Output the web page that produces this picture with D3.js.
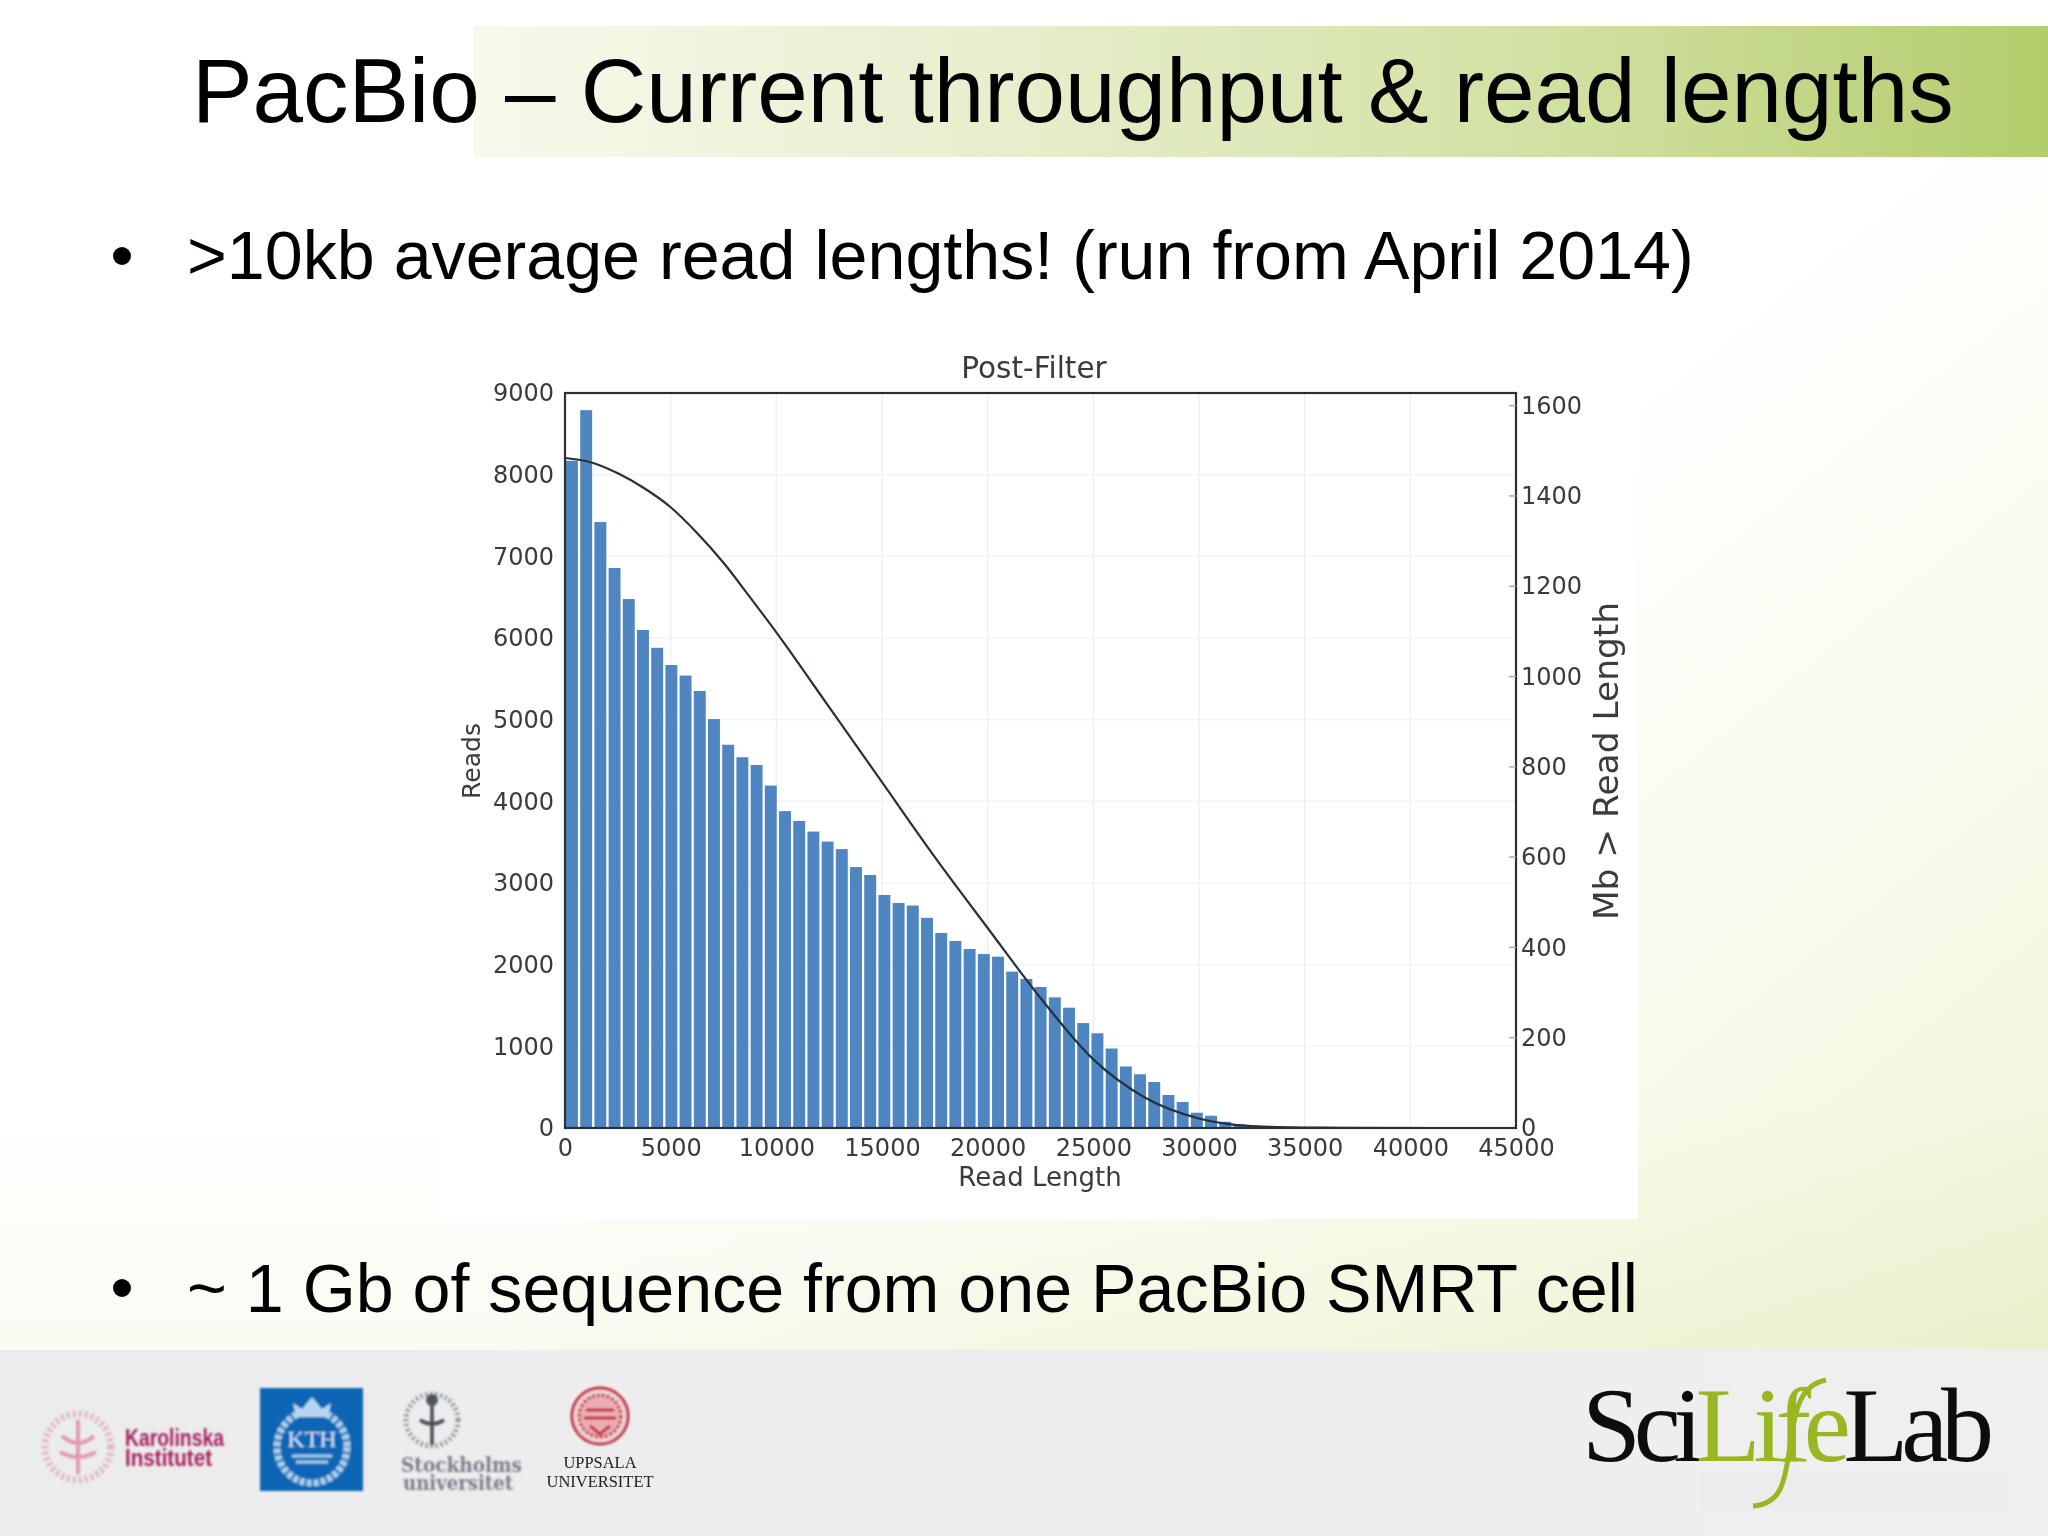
<!DOCTYPE html>
<html><head><meta charset="utf-8">
<script src="https://cdn.jsdelivr.net/npm/d3@7"></script>
<style>html,body{margin:0;padding:0;background:#fff}svg{display:block}</style>
</head><body><div id="c"></div>
<script>
const slideTitle = "PacBio \u2013 Current throughput & read lengths";
const bullets = [">10kb average read lengths! (run from April 2014)", "~ 1 Gb of sequence from one PacBio SMRT cell"];
const chartTitle = "Post-Filter", xLabel = "Read Length", yLabel = "Reads", y2Label = "Mb > Read Length";
const xTicks = [0,5000,10000,15000,20000,25000,30000,35000,40000,45000];
const yTicks = [0,1000,2000,3000,4000,5000,6000,7000,8000,9000];
const y2Ticks = [0,200,400,600,800,1000,1200,1400,1600];
const binWidth = 672;
const readCounts = [8170,8790,7420,6857,6477,6098,5880,5669,5540,5351,5007,4693,4540,4445,4193,3880,3760,3630,3507,3415,3195,3098,2853,2755,2724,2573,2388,2290,2192,2130,2098,1915,1825,1727,1600,1473,1285,1160,973,753,658,563,404,318,187,150,77,45,25,15,10,8,6,4,3,2];
const curveLength = [0,1250,2500,3750,5000,6250,7500,8750,10000,12500,15000,17500,20000,22500,25000,27500,30000,32500,35000,41000];
const curveMb = [1484,1474,1450,1417,1375,1318,1252,1176,1098,932,766,600,443,288,152,66,21,4,1,0];

const W=2048,H=1536;
const svg=d3.select("#c").append("svg").attr("width",W).attr("height",H);
const defs=svg.append("defs");
function grad(id,x1,y1,x2,y2,stops){const g=defs.append("linearGradient").attr("id",id).attr("x1",x1).attr("y1",y1).attr("x2",x2).attr("y2",y2);stops.forEach(s=>g.append("stop").attr("offset",s[0]).attr("stop-color",s[1]).attr("stop-opacity",s[2]===undefined?1:s[2]));}
grad("bg",0.55,0.5,1,0.92,[[0,"#ffffff"],[0.5,"#f8fbec"],[1,"#edf3d3"]]);
grad("bg2",0,0.72,0,0.88,[[0,"#fafbf2",0],[1,"#fafbf2",1]]);
grad("band",0,0,1,0,[[0,"#f7f9ec"],[0.35,"#e6eecb"],[0.7,"#d0e0a0"],[1,"#b3cd6c"]]);
grad("foot",0,0,1,0,[[0,"#ececee"],[1,"#efeff0"]]);
const soft=defs.append("filter").attr("id","soft");soft.append("feGaussianBlur").attr("stdDeviation",0.6);
const soft2=defs.append("filter").attr("id","soft2");soft2.append("feGaussianBlur").attr("stdDeviation",0.8);

svg.append("rect").attr("width",W).attr("height",H).attr("fill","#fff");
svg.append("rect").attr("width",W).attr("height",H).attr("fill","url(#bg2)");
svg.append("rect").attr("width",W).attr("height",H).attr("fill","url(#bg)").attr("style","mix-blend-mode:multiply");
svg.append("rect").attr("x",474).attr("y",26).attr("width",W-474).attr("height",131).attr("fill","url(#band)");
svg.append("rect").attr("x",0).attr("y",1350).attr("width",W).attr("height",186).attr("fill","url(#foot)");

const sans="'Liberation Sans',Arial,sans-serif";
svg.append("text").attr("x",192).attr("y",122).attr("font-family",sans).attr("font-size",90.8).attr("fill","#000").text(slideTitle);
svg.selectAll("text.bul").data(bullets).join("text").attr("class","bul").attr("x",187).attr("y",(d,i)=>[279,1312][i]).attr("font-family",sans).attr("font-size",68.2).attr("fill","#000").text(d=>d);
svg.selectAll("circle.b").data([256,1288]).join("circle").attr("class","b").attr("cx",122).attr("cy",d=>d).attr("r",9).attr("fill","#000");

// chart
svg.append("rect").attr("x",440).attr("y",332).attr("width",1198).attr("height",887).attr("fill","#fff");
const L=565,R=1516,T=393,B=1128;
const x=d3.scaleLinear().domain([0,45000]).range([L,R]);
const y=d3.scaleLinear().domain([0,9000]).range([B,T]);
const y2=d3.scaleLinear().domain([0,1628]).range([B,T]);
const g=svg.append("g").attr("filter","url(#soft)");
const dv="'DejaVu Sans',sans-serif";

g.append("g").selectAll("line.gx").data(xTicks.slice(1,-1)).join("line").attr("x1",d=>x(d)).attr("x2",d=>x(d)).attr("y1",T).attr("y2",B).attr("stroke","#eef0f4").attr("stroke-width",1.5);
g.append("g").selectAll("line.gy").data(yTicks.slice(1,-1)).join("line").attr("y1",d=>y(d)).attr("y2",d=>y(d)).attr("x1",L).attr("x2",R).attr("stroke","#f4f4f6").attr("stroke-width",1.5);

g.append("g").selectAll("rect").data(readCounts).join("rect")
 .attr("x",(d,i)=>x(i*binWidth)+1).attr("width",x(binWidth*0.84)-x(0))
 .attr("y",d=>y(d)).attr("height",d=>y(0)-y(d)).attr("fill","#5086c1");

const line=d3.line().x(d=>x(d[0])).y(d=>y2(d[1])).curve(d3.curveMonotoneX);
g.append("path").datum(curveLength.map((v,i)=>[v,curveMb[i]])).attr("d",line).attr("fill","none").attr("stroke","#26303a").attr("stroke-width",2.2);

g.append("rect").attr("x",L).attr("y",T).attr("width",R-L).attr("height",B-T).attr("fill","none").attr("stroke","#2b2f36").attr("stroke-width",2.2);

function style(a){a.selectAll("path,line").remove();a.selectAll("text").attr("font-family",dv).attr("font-size",24).attr("fill","#3a3a3a");}
g.append("g").attr("transform",`translate(0,${B+11})`).call(d3.axisBottom(x).tickValues(xTicks).tickFormat(d3.format("d")).tickSize(0).tickPadding(0)).call(style);
g.append("g").attr("transform",`translate(${L-11},0)`).call(d3.axisLeft(y).tickValues(yTicks).tickFormat(d3.format("d")).tickSize(0).tickPadding(0)).call(style);
g.append("g").attr("transform",`translate(${R+5},0)`).call(d3.axisRight(y2).tickValues(y2Ticks).tickFormat(d3.format("d")).tickSize(0).tickPadding(0)).call(style);
g.append("g").selectAll("line.t").data(y2Ticks.slice(1)).join("line").attr("x1",R-7).attr("x2",R).attr("y1",d=>y2(d)).attr("y2",d=>y2(d)).attr("stroke","#aaa").attr("stroke-width",1.5);

g.append("text").attr("x",1034).attr("y",378).attr("text-anchor","middle").attr("font-family",dv).attr("font-size",29.5).attr("fill","#3a3a3a").text(chartTitle);
g.append("text").attr("x",1040).attr("y",1186).attr("text-anchor","middle").attr("font-family",dv).attr("font-size",26).attr("fill","#3a3a3a").text(xLabel);
g.append("text").attr("transform","translate(480,761) rotate(-90)").attr("text-anchor","middle").attr("font-family",dv).attr("font-size",25).attr("fill","#3a3a3a").text(yLabel);
g.append("text").attr("transform","translate(1618,761) rotate(-90)").attr("text-anchor","middle").attr("font-family",dv).attr("font-size",34.4).attr("fill","#3a3a3a").text(y2Label);

// footer logos
const lg=svg.append("g").attr("filter","url(#soft2)");
// Karolinska
lg.append("circle").attr("cx",78).attr("cy",1447).attr("r",33).attr("fill","none").attr("stroke","#e2b8c8").attr("stroke-width",7).attr("stroke-dasharray","3 3");
lg.append("path").attr("d","M78 1420V1474M62 1436q16 14 32 0M60 1452q18 10 36 0").attr("fill","none").attr("stroke","#e09ab2").attr("stroke-width",4);
lg.append("text").attr("x",125).attr("y",1446).attr("font-family","'Liberation Sans',sans-serif").attr("font-weight",700).attr("font-size",23).attr("textLength",99).attr("lengthAdjust","spacingAndGlyphs").attr("fill","#a8235c").text("Karolinska");
lg.append("text").attr("x",125).attr("y",1466).attr("font-family","'Liberation Sans',sans-serif").attr("font-weight",700).attr("font-size",23).attr("textLength",87).attr("lengthAdjust","spacingAndGlyphs").attr("fill","#a8235c").text("Institutet");
// KTH
lg.append("rect").attr("x",260).attr("y",1388).attr("width",103).attr("height",103).attr("fill","#1166b5");
lg.append("ellipse").attr("cx",312).attr("cy",1447).attr("rx",35).attr("ry",36).attr("fill","none").attr("stroke","#a9cfec").attr("stroke-width",7).attr("stroke-dasharray","5 2");
lg.append("path").attr("d","M296 1417l-3-14 9 6 10-12 10 12 9-6-3 14z").attr("fill","#b5d6ee");
lg.append("text").attr("x",312).attr("y",1447).attr("text-anchor","middle").attr("font-family","'Liberation Serif',serif").attr("font-size",24).attr("fill","#cfe4f4").text("KTH");
lg.append("path").attr("d","M292 1456H332M296 1462H328").attr("stroke","#a9cfec").attr("stroke-width",3);
// Stockholm
lg.append("circle").attr("cx",432).attr("cy",1420).attr("r",26).attr("fill","none").attr("stroke","#8a8f96").attr("stroke-width",5).attr("stroke-dasharray","2 3");
lg.append("path").attr("d","M432 1395V1445M420 1420q12 8 24 0").attr("fill","none").attr("stroke","#444b55").attr("stroke-width",3.5);
lg.append("circle").attr("cx",432).attr("cy",1400).attr("r",6).attr("fill","#4b5661");
lg.append("text").attr("x",401).attr("y",1472).attr("font-family","'DejaVu Serif',serif").attr("font-weight",700).attr("font-size",21).attr("textLength",121).attr("lengthAdjust","spacingAndGlyphs").attr("fill","#7a8087").text("Stockholms");
lg.append("text").attr("x",403).attr("y",1490).attr("font-family","'DejaVu Serif',serif").attr("font-weight",700).attr("font-size",21).attr("textLength",110).attr("lengthAdjust","spacingAndGlyphs").attr("fill","#7a8087").text("universitet");
// Uppsala
lg.append("circle").attr("cx",600).attr("cy",1416).attr("r",28).attr("fill","#eed4d6").attr("stroke","#c4283a").attr("stroke-width",3);
lg.append("circle").attr("cx",600).attr("cy",1416).attr("r",21).attr("fill","#e8aeb4").attr("stroke","#c4283a").attr("stroke-width",3).attr("stroke-dasharray","3 2");
lg.append("path").attr("d","M586 1410H614M584 1418H616M590 1426L600 1434L610 1426").attr("fill","none").attr("stroke","#c4283a").attr("stroke-width",3);
const ug=svg.append("g");
ug.append("text").attr("x",600).attr("y",1468).attr("text-anchor","middle").attr("font-family","'Liberation Serif',serif").attr("font-size",17.5).attr("textLength",73).attr("lengthAdjust","spacingAndGlyphs").attr("fill","#222").text("UPPSALA");
ug.append("text").attr("x",600).attr("y",1487).attr("text-anchor","middle").attr("font-family","'Liberation Serif',serif").attr("font-size",17.5).attr("textLength",107).attr("lengthAdjust","spacingAndGlyphs").attr("fill","#222").text("UNIVERSITET");
// SciLifeLab
lg.append("rect").attr("x",1700).attr("y",1470).attr("width",308).attr("height",40).attr("fill","#e8e8ec").attr("opacity",0.4);
const sl=svg.append("text").attr("x",1582).attr("y",1461).attr("font-family","'Liberation Serif',serif").attr("font-size",106).attr("textLength",412).attr("lengthAdjust","spacing").attr("filter","url(#soft)");
sl.append("tspan").attr("fill","#0b0b0b").text("Sci");
sl.append("tspan").attr("fill","#97b820").text("Life");
sl.append("tspan").attr("fill","#0b0b0b").text("Lab");
svg.append("path").attr("d","M1826 1380C1800 1385 1795 1410 1790 1445C1785 1485 1780 1504 1753 1506").attr("fill","none").attr("stroke","#97b820").attr("stroke-width",5).attr("filter","url(#soft)");
</script></body></html>
